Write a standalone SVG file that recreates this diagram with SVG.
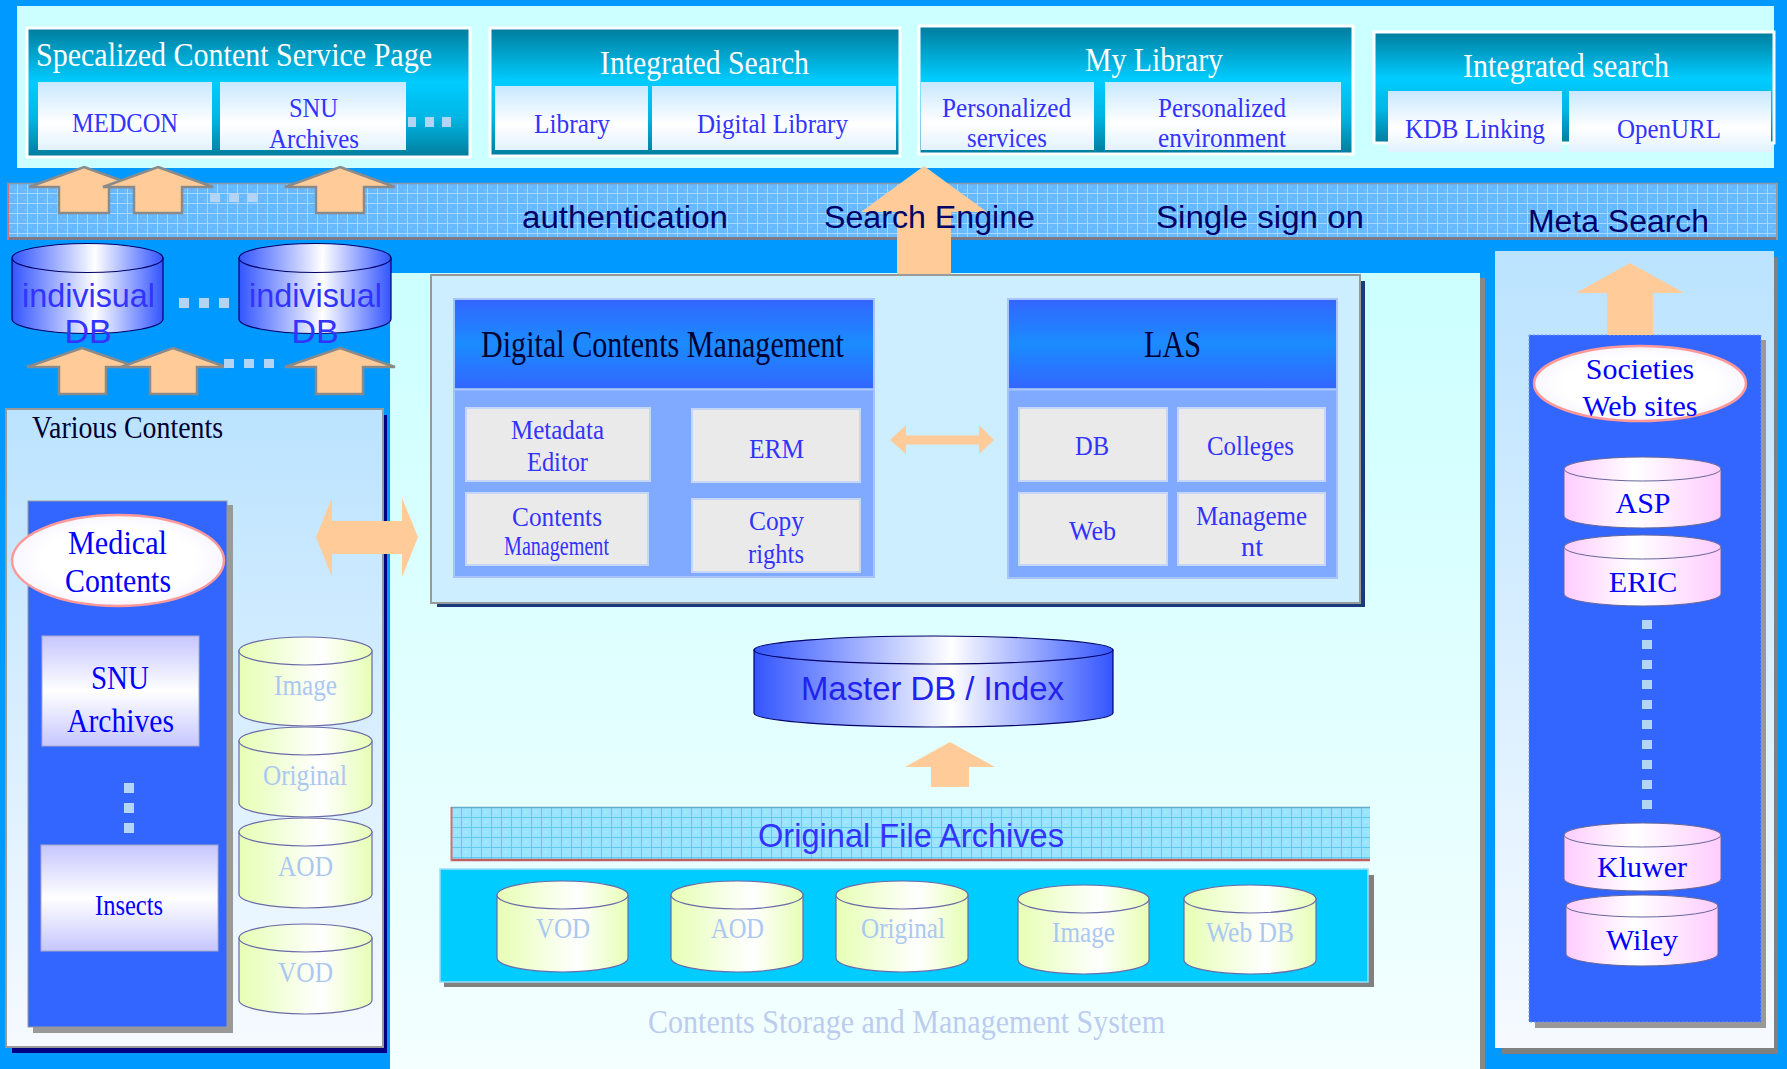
<svg xmlns="http://www.w3.org/2000/svg" width="1787" height="1069" viewBox="0 0 1787 1069">
<defs>
<linearGradient id="teal" x1="0" y1="0" x2="0" y2="1">
<stop offset="0" stop-color="#007C9C"/><stop offset="0.42" stop-color="#00CCFF"/><stop offset="0.7" stop-color="#00B6E4"/><stop offset="1" stop-color="#007C9C"/>
</linearGradient>
<linearGradient id="lite" x1="0" y1="0" x2="0" y2="1">
<stop offset="0" stop-color="#C8E8FF"/><stop offset="0.6" stop-color="#FFFFFF"/><stop offset="1" stop-color="#E2F2FF"/>
</linearGradient>
<linearGradient id="lav" x1="0" y1="0" x2="0" y2="1">
<stop offset="0" stop-color="#C6C6FF"/><stop offset="0.5" stop-color="#FFFFFF"/><stop offset="1" stop-color="#C6C6FF"/>
</linearGradient>
<linearGradient id="hdr" x1="0" y1="0" x2="0" y2="1">
<stop offset="0" stop-color="#3366FF"/><stop offset="0.5" stop-color="#1A8CFF"/><stop offset="1" stop-color="#3366FF"/>
</linearGradient>
<linearGradient id="blueH" x1="0" y1="0" x2="1" y2="0">
<stop offset="0" stop-color="#3355FF"/><stop offset="0.55" stop-color="#FFFFFF"/><stop offset="1" stop-color="#3355FF"/>
</linearGradient>
<linearGradient id="yelH" x1="0" y1="0" x2="1" y2="0">
<stop offset="0" stop-color="#E6FFB4"/><stop offset="0.62" stop-color="#FFFFFF"/><stop offset="1" stop-color="#E6FFB4"/>
</linearGradient>
<linearGradient id="pinkH" x1="0" y1="0" x2="1" y2="0">
<stop offset="0" stop-color="#FFCCFF"/><stop offset="0.45" stop-color="#FFFFFF"/><stop offset="1" stop-color="#FFCCFF"/>
</linearGradient>
<linearGradient id="panelV" x1="0" y1="0" x2="0" y2="1">
<stop offset="0" stop-color="#BBE3FF"/><stop offset="1" stop-color="#F6FAFF"/>
</linearGradient>
<linearGradient id="centerV" x1="0" y1="0" x2="0" y2="1">
<stop offset="0" stop-color="#CCFFFF"/><stop offset="1" stop-color="#F4FFFF"/>
</linearGradient>
<radialGradient id="ovalW" cx="0.5" cy="0.5" r="0.6">
<stop offset="0.6" stop-color="#FFFFFF"/><stop offset="1" stop-color="#F4F0FF"/>
</radialGradient>
<pattern id="gridBand" width="10" height="10" patternUnits="userSpaceOnUse" x="7" y="183">
<rect width="10" height="10" fill="#66B8FF"/>
<rect x="3" y="3" width="2" height="2" fill="#74C0FF"/><rect x="7" y="6" width="2" height="2" fill="#74C0FF"/>
<path d="M0 0.5H10M0.5 0V10" stroke="#A8D8FF" stroke-width="1"/>
</pattern>
<pattern id="gridOfa" width="10" height="10" patternUnits="userSpaceOnUse" x="451" y="807">
<rect width="10" height="10" fill="#9BE4FF"/>
<rect x="4" y="4" width="2" height="2" fill="#A8E9FF"/>
<path d="M0 0.5H10M0.5 0V10" stroke="#5FCBF2" stroke-width="1"/>
</pattern>
</defs>
<style>
.serif{font-family:"Liberation Serif","Times New Roman",serif}
.sans{font-family:"Liberation Sans",Arial,sans-serif}
.ttl{fill:#FFFFFF;font-size:33px}
.sb{fill:#3333FF;font-size:28px}
.band{fill:#000066;font-size:31px}
.pale{fill:#AAC8F0;font-size:29px}
.pure{fill:#0000FF}
.navy{fill:#000033}
.arr{fill:#FFCC99}
.arrO{fill:#FFCC99;stroke:#8A8A8A;stroke-width:2.5}
.dot{fill:#B4D4F4}
.gbox{fill:#EAEAEA;stroke:#C6D6F6;stroke-width:2}
.tealbox{fill:url(#teal);stroke:#FFFFFF;stroke-width:3}
.lite{fill:url(#lite)}
.cylB{fill:url(#blueH);stroke:#000066;stroke-width:1.2}
.cylY{fill:url(#yelH);stroke:#6A6AA8;stroke-width:1.2}
.cylP{fill:url(#pinkH);stroke:#666699;stroke-width:1}
.oval{fill:url(#ovalW);stroke:#FF9999;stroke-width:2.5}
</style>

<!-- backdrop -->
<rect width="1787" height="1069" fill="#0099FF"/>
<rect x="17" y="6" width="1757" height="162" fill="#CCFFFF"/>

<!-- service boxes along the top -->
<g id="specialized-service">
<rect class="tealbox" x="27" y="28" width="443" height="129"/>
<text class="serif ttl" x="36" y="66" textLength="396" lengthAdjust="spacingAndGlyphs">Specalized Content Service Page</text>
<rect class="lite" x="38" y="82" width="174" height="68"/>
<rect class="lite" x="220" y="82" width="186" height="68"/>
<text class="serif sb" x="72" y="132" textLength="106" lengthAdjust="spacingAndGlyphs">MEDCON</text>
<text class="serif sb" x="289" y="117" textLength="49" lengthAdjust="spacingAndGlyphs">SNU</text>
<text class="serif sb" x="269" y="148" textLength="90" lengthAdjust="spacingAndGlyphs">Archives</text>
<rect class="dot" x="408" y="117" width="8" height="10"/><rect class="dot" x="425" y="117" width="9" height="10"/><rect class="dot" x="442" y="117" width="9" height="10"/>
</g>
<g id="integrated-search">
<rect class="tealbox" x="490" y="28" width="410" height="128"/>
<text class="serif ttl" x="600" y="74" textLength="209" lengthAdjust="spacingAndGlyphs">Integrated Search</text>
<rect class="lite" x="495" y="86" width="153" height="64"/>
<rect class="lite" x="652" y="86" width="244" height="64"/>
<text class="serif sb" x="534" y="133" textLength="76" lengthAdjust="spacingAndGlyphs">Library</text>
<text class="serif sb" x="697" y="133" textLength="151" lengthAdjust="spacingAndGlyphs">Digital Library</text>
</g>
<g id="my-library">
<rect class="tealbox" x="919" y="26" width="434" height="128"/>
<text class="serif ttl" x="1085" y="71" textLength="138" lengthAdjust="spacingAndGlyphs">My Library</text>
<rect class="lite" x="921" y="82" width="173" height="68"/>
<rect class="lite" x="1105" y="82" width="236" height="68"/>
<text class="serif sb" x="942" y="117" textLength="129" lengthAdjust="spacingAndGlyphs">Personalized</text>
<text class="serif sb" x="967" y="147" textLength="80" lengthAdjust="spacingAndGlyphs">services</text>
<text class="serif sb" x="1158" y="117" textLength="128" lengthAdjust="spacingAndGlyphs">Personalized</text>
<text class="serif sb" x="1158" y="147" textLength="128" lengthAdjust="spacingAndGlyphs">environment</text>
</g>
<g id="integrated-search-2">
<rect class="tealbox" x="1374" y="32" width="400" height="111"/>
<text class="serif ttl" x="1463" y="77" textLength="206" lengthAdjust="spacingAndGlyphs">Integrated search</text>
<rect class="lite" x="1388" y="91" width="174" height="61"/>
<rect class="lite" x="1569" y="91" width="202" height="61"/>
<text class="serif sb" x="1405" y="138" textLength="140" lengthAdjust="spacingAndGlyphs">KDB Linking</text>
<text class="serif sb" x="1617" y="138" textLength="104" lengthAdjust="spacingAndGlyphs">OpenURL</text>
</g>

<!-- middleware band -->
<g id="middleware-band">
<rect x="7" y="183" width="1771" height="57" fill="url(#gridBand)"/>
<path d="M7 183.5H1778" stroke="#8899AA" stroke-width="1.5"/>
<path d="M7 238.5H1778" stroke="#7A7A88" stroke-width="3"/>
<path d="M8 183V240" stroke="#CC7777" stroke-width="2"/>
<path d="M1777 183V240" stroke="#999999" stroke-width="2"/>
</g>

<!-- central work area -->
<rect x="1480" y="278" width="5" height="791" fill="#888888"/>
<rect x="390" y="273" width="1090" height="796" fill="url(#centerV)"/>

<!-- right column -->
<g id="meta-search-panel">
<rect x="1502" y="257" width="276" height="797" fill="#808080"/>
<rect x="1495" y="251" width="279" height="797" fill="url(#panelV)"/>
</g>
<g id="societies">
<rect x="1535" y="340" width="231" height="688" fill="#999999"/>
<rect x="1529" y="335" width="232" height="687" fill="#3366FF" stroke="#7799EE" stroke-width="1" stroke-dasharray="2 2"/>
<ellipse class="oval" cx="1640" cy="383.5" rx="106" ry="37.5"/>
<text class="serif pure" x="1640" y="379" font-size="30" text-anchor="middle">Societies</text>
<text class="serif pure" x="1640" y="416" font-size="30" text-anchor="middle">Web sites</text>
</g>
<g id="asp">
<path class="cylP" d="M1564 469V516A78.5 12 0 0 0 1721 516V469Z"/>
<ellipse class="cylP" cx="1642.5" cy="469" rx="78.5" ry="12"/>
<text class="serif pure" x="1643" y="513" font-size="30" text-anchor="middle">ASP</text>
</g>
<g id="eric">
<path class="cylP" d="M1564 547V594A78.5 12 0 0 0 1721 594V547Z"/>
<ellipse class="cylP" cx="1642.5" cy="547" rx="78.5" ry="12"/>
<text class="serif pure" x="1643" y="592" font-size="30" text-anchor="middle">ERIC</text>
</g>
<g id="meta-dots">
<rect class="dot" x="1642" y="620" width="10" height="9"/><rect class="dot" x="1642" y="640" width="10" height="9"/>
<rect class="dot" x="1642" y="660" width="10" height="9"/><rect class="dot" x="1642" y="680" width="10" height="9"/>
<rect class="dot" x="1642" y="700" width="10" height="9"/><rect class="dot" x="1642" y="720" width="10" height="9"/>
<rect class="dot" x="1642" y="740" width="10" height="9"/><rect class="dot" x="1642" y="760" width="10" height="9"/>
<rect class="dot" x="1642" y="780" width="10" height="9"/><rect class="dot" x="1642" y="800" width="10" height="9"/>
</g>
<g id="kluwer">
<path class="cylP" d="M1564 835V879A78.5 12 0 0 0 1721 879V835Z"/>
<ellipse class="cylP" cx="1642.5" cy="835" rx="78.5" ry="12"/>
<text class="serif pure" x="1642" y="877" font-size="30" text-anchor="middle">Kluwer</text>
</g>
<g id="wiley">
<path class="cylP" d="M1566 906V954A76 12 0 0 0 1718 954V906Z"/>
<ellipse class="cylP" cx="1642" cy="906" rx="76" ry="11"/>
<text class="serif pure" x="1642" y="950" font-size="30" text-anchor="middle">Wiley</text>
</g>

<!-- left column: individual databases -->
<g id="individual-db-1">
<path class="cylB" d="M12 258V319A75.5 14.5 0 0 0 163 319V258Z"/>
<ellipse class="cylB" cx="87.5" cy="258" rx="75.5" ry="14.5"/>
<text class="sans" x="22" y="307" font-size="34" fill="#3333FF" textLength="133" lengthAdjust="spacingAndGlyphs">indivisual</text>
<text class="sans" x="88" y="343" font-size="34" fill="#3333FF" text-anchor="middle">DB</text>
</g>
<g id="individual-db-2">
<path class="cylB" d="M239 258V319A76 14.5 0 0 0 391 319V258Z"/>
<ellipse class="cylB" cx="315" cy="258" rx="76" ry="14.5"/>
<text class="sans" x="249" y="307" font-size="34" fill="#3333FF" textLength="133" lengthAdjust="spacingAndGlyphs">indivisual</text>
<text class="sans" x="315" y="343" font-size="34" fill="#3333FF" text-anchor="middle">DB</text>
</g>
<g id="db-dots">
<rect class="dot" x="179" y="298" width="10" height="10"/><rect class="dot" x="199" y="298" width="10" height="10"/><rect class="dot" x="219" y="298" width="10" height="10"/>
</g>

<!-- left column: various contents -->
<g id="various-contents">
<rect x="12" y="415" width="375" height="638" fill="#000080"/>
<rect x="6" y="409" width="377" height="638" fill="url(#panelV)" stroke="#999999" stroke-width="2"/>
<text class="serif navy" x="32" y="438" font-size="32" textLength="191" lengthAdjust="spacingAndGlyphs">Various Contents</text>
</g>
<g id="medical-contents">
<rect x="33" y="505" width="200" height="528" fill="#999999"/>
<rect x="28" y="501" width="199" height="526" fill="#3366FF" stroke="#999999" stroke-width="1"/>
<ellipse class="oval" cx="118" cy="560.5" rx="106" ry="45.5"/>
<text class="serif pure" x="68" y="554" font-size="34" textLength="99" lengthAdjust="spacingAndGlyphs">Medical</text>
<text class="serif pure" x="65" y="592" font-size="34" textLength="106" lengthAdjust="spacingAndGlyphs">Contents</text>
</g>
<g id="snu-archives">
<rect x="42" y="636" width="157" height="110" fill="url(#lav)" stroke="#A8A8C8" stroke-width="1"/>
<text class="serif pure" x="91" y="689" font-size="34" textLength="58" lengthAdjust="spacingAndGlyphs">SNU</text>
<text class="serif pure" x="67" y="732" font-size="34" textLength="107" lengthAdjust="spacingAndGlyphs">Archives</text>
</g>
<g id="medical-dots">
<rect class="dot" x="124" y="783" width="10" height="10"/><rect class="dot" x="124" y="803" width="10" height="10"/><rect class="dot" x="124" y="823" width="10" height="10"/>
</g>
<g id="insects">
<rect x="41" y="845" width="177" height="106" fill="url(#lav)" stroke="#A8A8C8" stroke-width="1"/>
<text class="serif pure" x="95" y="915" font-size="29" textLength="68" lengthAdjust="spacingAndGlyphs">Insects</text>
</g>
<g id="image-store">
<path class="cylY" d="M239 651V712A66.5 14 0 0 0 372 712V651Z"/>
<ellipse class="cylY" cx="305.5" cy="651" rx="66.5" ry="14"/>
<text class="serif pale" x="274" y="695" textLength="63" lengthAdjust="spacingAndGlyphs">Image</text>
</g>
<g id="original-store">
<path class="cylY" d="M239 741V803A66.5 14 0 0 0 372 803V741Z"/>
<ellipse class="cylY" cx="305.5" cy="741" rx="66.5" ry="14"/>
<text class="serif pale" x="263" y="785" textLength="84" lengthAdjust="spacingAndGlyphs">Original</text>
</g>
<g id="aod-store">
<path class="cylY" d="M239 832V894A66.5 14 0 0 0 372 894V832Z"/>
<ellipse class="cylY" cx="305.5" cy="832" rx="66.5" ry="14"/>
<text class="serif pale" x="278" y="876" textLength="55" lengthAdjust="spacingAndGlyphs">AOD</text>
</g>
<g id="vod-store">
<path class="cylY" d="M239 938V1000A66.5 14 0 0 0 372 1000V938Z"/>
<ellipse class="cylY" cx="305.5" cy="938" rx="66.5" ry="14"/>
<text class="serif pale" x="278" y="982" textLength="55" lengthAdjust="spacingAndGlyphs">VOD</text>
</g>

<!-- management frame -->
<g id="management-frame">
<rect x="437" y="281" width="928" height="326" fill="#1A3A80"/>
<rect x="431" y="275" width="929" height="328" fill="#CCEEFF" stroke="#999999" stroke-width="2"/>
</g>
<g id="digital-contents-management">
<rect x="454" y="299" width="420" height="278" fill="#80AAFF" stroke="#A8C4FF" stroke-width="2"/>
<rect x="455" y="300" width="418" height="88" fill="url(#hdr)"/>
<path d="M455 389.5H873" stroke="#A8C4FF" stroke-width="2"/>
<text class="serif navy" x="481" y="357" font-size="37" textLength="363" lengthAdjust="spacingAndGlyphs">Digital Contents Management</text>
<rect class="gbox" x="466" y="408" width="184" height="73"/>
<rect class="gbox" x="692" y="409" width="168" height="73"/>
<rect class="gbox" x="466" y="493" width="182" height="72"/>
<rect class="gbox" x="692" y="499" width="168" height="73"/>
<text class="serif sb" x="511" y="439" textLength="93" lengthAdjust="spacingAndGlyphs">Metadata</text>
<text class="serif sb" x="527" y="471" textLength="61" lengthAdjust="spacingAndGlyphs">Editor</text>
<text class="serif sb" x="749" y="458" textLength="55" lengthAdjust="spacingAndGlyphs">ERM</text>
<text class="serif sb" x="512" y="526" font-size="27" textLength="90" lengthAdjust="spacingAndGlyphs">Contents</text>
<text class="serif sb" x="504" y="555" font-size="20" textLength="105" lengthAdjust="spacingAndGlyphs">Management</text>
<text class="serif sb" x="749" y="530" textLength="55" lengthAdjust="spacingAndGlyphs">Copy</text>
<text class="serif sb" x="748" y="563" textLength="56" lengthAdjust="spacingAndGlyphs">rights</text>
</g>
<g id="las">
<rect x="1008" y="299" width="329" height="279" fill="#80AAFF" stroke="#A8C4FF" stroke-width="2"/>
<rect x="1009" y="300" width="327" height="88" fill="url(#hdr)"/>
<path d="M1009 389.5H1336" stroke="#A8C4FF" stroke-width="2"/>
<text class="serif navy" x="1144" y="357" font-size="37" textLength="57" lengthAdjust="spacingAndGlyphs">LAS</text>
<rect class="gbox" x="1019" y="408" width="148" height="73"/>
<rect class="gbox" x="1178" y="408" width="147" height="73"/>
<rect class="gbox" x="1019" y="493" width="148" height="72"/>
<rect class="gbox" x="1178" y="493" width="147" height="72"/>
<text class="serif sb" x="1075" y="455" textLength="34" lengthAdjust="spacingAndGlyphs">DB</text>
<text class="serif sb" x="1207" y="455" textLength="87" lengthAdjust="spacingAndGlyphs">Colleges</text>
<text class="serif sb" x="1069" y="540" textLength="47" lengthAdjust="spacingAndGlyphs">Web</text>
<text class="serif sb" x="1196" y="525" textLength="111" lengthAdjust="spacingAndGlyphs">Manageme</text>
<text class="serif sb" x="1241" y="556" textLength="22" lengthAdjust="spacingAndGlyphs">nt</text>
</g>

<!-- storage -->
<g id="master-db">
<path class="cylB" d="M754 650V713A179.5 14 0 0 0 1113 713V650Z"/>
<ellipse class="cylB" cx="933.5" cy="650" rx="179.5" ry="14"/>
<text class="sans" x="801" y="700" font-size="33" fill="#2222EE" textLength="263" lengthAdjust="spacingAndGlyphs">Master DB / Index</text>
</g>
<g id="original-file-archives">
<rect x="451" y="807" width="919" height="54" fill="url(#gridOfa)"/>
<path d="M451 807.5H1370" stroke="#66AACC" stroke-width="1.5"/>
<path d="M451 860H1370" stroke="#C06060" stroke-width="2.5"/>
<path d="M451.5 807V861" stroke="#D07070" stroke-width="2"/>
<text class="sans" x="758" y="847" font-size="33" fill="#3333FF" textLength="306" lengthAdjust="spacingAndGlyphs">Original File Archives</text>
</g>
<g id="file-stores">
<rect x="444" y="875" width="930" height="112" fill="#808080"/>
<rect x="440" y="869" width="928" height="113" fill="#00CCFF" stroke="#99DDFF" stroke-width="1.5"/>
<path class="cylY" d="M497 895V958A65.5 14 0 0 0 628 958V895Z"/>
<ellipse class="cylY" cx="562.5" cy="895" rx="65.5" ry="14"/>
<text class="serif pale" x="536" y="938" font-size="30" textLength="54" lengthAdjust="spacingAndGlyphs">VOD</text>
<path class="cylY" d="M671 895V958A66 14 0 0 0 803 958V895Z"/>
<ellipse class="cylY" cx="737" cy="895" rx="66" ry="14"/>
<text class="serif pale" x="711" y="938" font-size="30" textLength="53" lengthAdjust="spacingAndGlyphs">AOD</text>
<path class="cylY" d="M836 895V958A66 14 0 0 0 968 958V895Z"/>
<ellipse class="cylY" cx="902" cy="895" rx="66" ry="14"/>
<text class="serif pale" x="861" y="938" font-size="30" textLength="84" lengthAdjust="spacingAndGlyphs">Original</text>
<path class="cylY" d="M1018 899V960A65.5 14 0 0 0 1149 960V899Z"/>
<ellipse class="cylY" cx="1083.5" cy="899" rx="65.5" ry="14"/>
<text class="serif pale" x="1052" y="942" font-size="30" textLength="63" lengthAdjust="spacingAndGlyphs">Image</text>
<path class="cylY" d="M1184 899V960A66 14 0 0 0 1316 960V899Z"/>
<ellipse class="cylY" cx="1250" cy="899" rx="66" ry="14"/>
<text class="serif pale" x="1206" y="942" font-size="30" textLength="88" lengthAdjust="spacingAndGlyphs">Web DB</text>
</g>
<text class="serif" x="648" y="1033" font-size="34" fill="#BBCCEE" textLength="517" lengthAdjust="spacingAndGlyphs">Contents Storage and Management System</text>

<!-- connectors -->
<g id="connectors">
<polygon class="arrO" points="84,167 139,187 109,187 109,213 59,213 59,187 29,187"/>
<polygon class="arrO" points="158,167 213,187 182,187 182,213 134,213 134,187 103,187"/>
<polygon class="arrO" points="340,167 395,187 364,187 364,213 316,213 316,187 285,187"/>
<rect class="dot" x="210" y="193" width="10" height="9"/><rect class="dot" x="229" y="193" width="10" height="9"/><rect class="dot" x="248" y="193" width="10" height="9"/>
<polygon class="arr" points="924,166 987,212 951,212 951,274 897,274 897,212 861,212"/>
<polygon class="arrO" points="82,348 137,367 106,367 106,394 59,394 59,367 27,367"/>
<polygon class="arrO" points="173,348 226,367 197,367 197,394 150,394 150,367 121,367"/>
<polygon class="arrO" points="340,348 395,367 363,367 363,394 316,394 316,367 285,367"/>
<rect class="dot" x="224" y="359" width="10" height="9"/><rect class="dot" x="244" y="359" width="10" height="9"/><rect class="dot" x="264" y="359" width="10" height="9"/>
<polygon class="arr" points="316,537 332,498 332,521 402,521 402,498 418,537 402,577 402,554 332,554 332,577"/>
<polygon class="arr" points="890,440 906,425 906,435.5 979,435.5 979,425 994,440 979,454 979,444.5 906,444.5 906,454"/>
<polygon class="arr" points="950,742 995,767 969,767 969,787 931,787 931,767 905,767"/>
<polygon class="arr" points="1630,263 1684,293 1653,293 1653,335 1607,335 1607,293 1576,293"/>
</g>

<!-- band labels -->
<g id="band-labels">
<text class="sans band" x="522" y="228" textLength="206" lengthAdjust="spacingAndGlyphs">authentication</text>
<text class="sans band" x="824" y="228" textLength="211" lengthAdjust="spacingAndGlyphs">Search Engine</text>
<text class="sans band" x="1156" y="228" textLength="208" lengthAdjust="spacingAndGlyphs">Single sign on</text>
<text class="sans band" x="1528" y="232" textLength="181" lengthAdjust="spacingAndGlyphs">Meta Search</text>
</g>
</svg>
